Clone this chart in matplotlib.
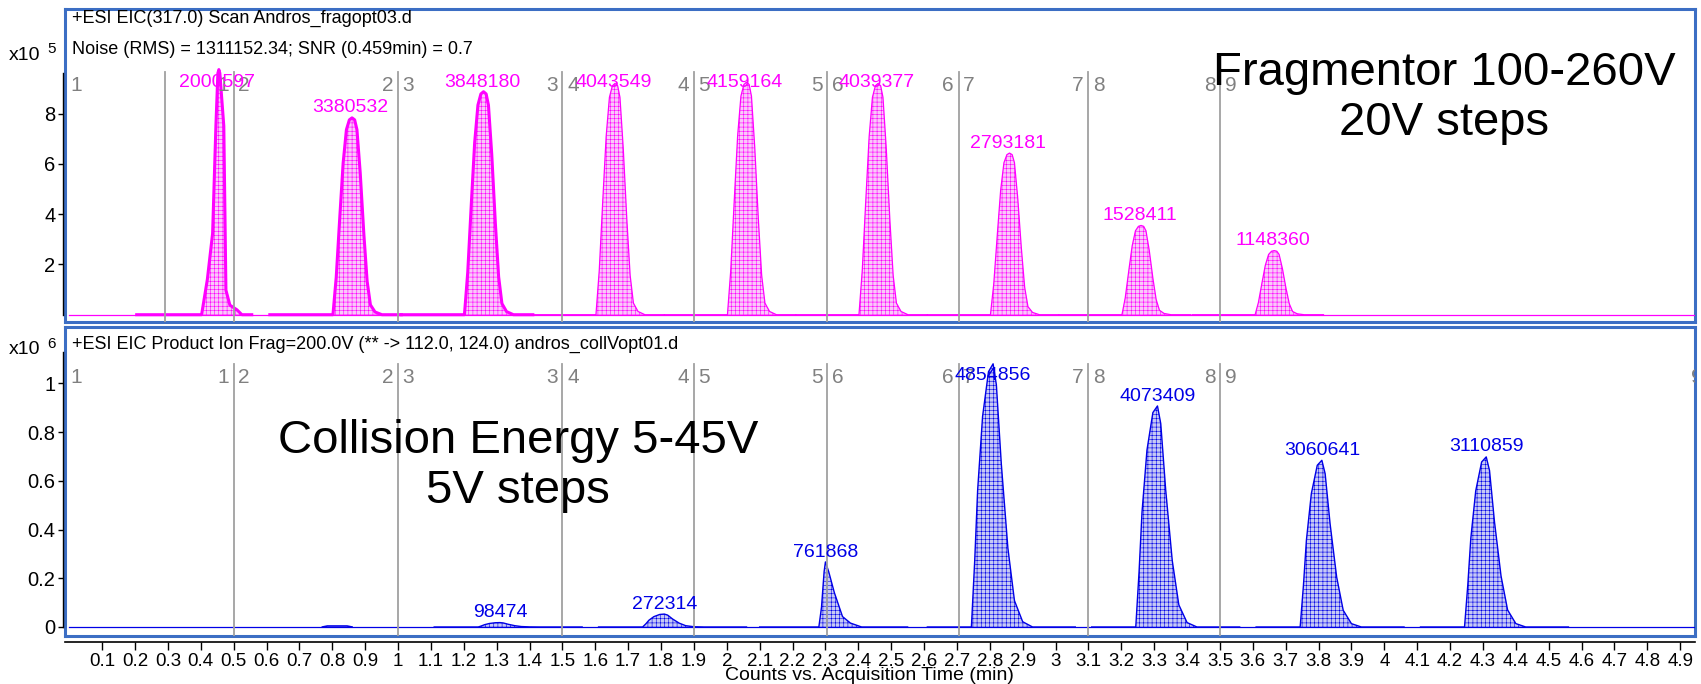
""" plot.py
Two stacked EIC traces (MassHunter style):
    top     fragmentor voltage ramp, 100-260V in 20V steps
    bottom  collision energy ramp, 5-45V in 5V steps
"""

import numpy as np
import matplotlib
matplotlib.use('Agg')
from matplotlib import pyplot as plt
from matplotlib import transforms

plt.rcParams['font.family'] = ['Liberation Sans', 'DejaVu Sans']
plt.rcParams['hatch.linewidth'] = 0.4
NARROW = ['Liberation Sans Narrow', 'Liberation Sans', 'DejaVu Sans']

W, H = 1701, 684

# ---------------- data ----------------
# top panel: EIC 317.0, counts x10^5
frag_rt = [0.455, 0.86, 1.26, 1.66, 2.06, 2.46, 2.86, 3.26, 3.665]
frag_height = [9.75, 7.83, 8.87, 9.2, 9.25, 9.2, 6.43, 3.55, 2.55]
frag_area = ['2000597', '3380532', '3848180', '4043549', '4159164',
             '4039377', '2793181', '1528411', '1148360']
frag_lw = [2.2, 2.2, 2.2, 0.9, 0.9, 0.9, 0.9, 0.9, 0.9]

# bottom panel: product ion EIC, counts x10^6
ce_rt = [1.31, 1.81, 2.30, 2.81, 3.31, 3.81, 4.31]
ce_height = [0.018, 0.053, 0.267, 1.08, 0.907, 0.684, 0.698]
ce_area = ['98474', '272314', '761868', '4854856', '4073409', '3060641', '3110859']

# peak outlines (offset from apex in min, fraction of apex height)
std_offs = [-0.25, -0.058, -0.048, -0.037, -0.027, -0.017, -0.008, 0.0, 0.008,
            0.015, 0.025, 0.036, 0.046, 0.056, 0.070, 0.091, 0.15]
std_rel = [0, 0, 0.19, 0.50, 0.77, 0.94, 0.99, 1.0, 0.99,
           0.94, 0.72, 0.41, 0.17, 0.05, 0.014, 0, 0]
spike_offs = [-0.25, -0.0525, -0.035, -0.019, -0.009, -0.003, 0.0, 0.003,
              0.015, 0.0215, 0.0336, 0.055, 0.07, 0.1]
spike_rel = [0, 0, 0.144, 0.332, 0.77, 0.985, 1.0, 0.985,
             0.77, 0.10, 0.039, 0.02, 0, 0]
ce_offs = [-0.20, -0.066, -0.056, -0.047, -0.032, -0.014, 0.0, 0.01,
           0.025, 0.045, 0.065, 0.09, 0.12, 0.25]
ce_rel = [0, 0, 0.25, 0.52, 0.8, 0.97, 1.0, 0.92,
          0.62, 0.3, 0.1, 0.02, 0, 0]
tail_offs = [-0.20, -0.02, -0.012, -0.004, 0.0, 0.01, 0.027, 0.052, 0.076, 0.11, 0.25]
tail_rel = [0, 0, 0.3, 0.85, 1.0, 0.85, 0.53, 0.16, 0.06, 0, 0]

# small bump near 0.8 min in the bottom trace (not integrated)
bump_t = [0.77, 0.785, 0.845, 0.86]
bump_y = [0, 0.004, 0.004, 0]

# segment boundaries
top_lines = [0.29, 0.5, 1.0, 1.5, 1.9, 2.305, 2.705, 3.1, 3.5]
seg_lines = [0.5, 1.0, 1.5, 1.9, 2.305, 2.705, 3.1, 3.5]
seg_left = ['1', '2', '3', '4', '5', '6', '7', '8']
seg_right = ['2', '3', '4', '5', '6', '7', '8', '9']

xticks = [round(0.1 * i, 1) for i in range(1, 50)]

# ---------------- style ----------------
MAGENTA = '#ff00ff'
PINK = '#f9c8f9'
BLUE = '#0000e6'
LBLUE = '#c6c9f5'
FRAME = '#3c6ec4'
GREY = '#a0a0a0'
GREYTXT = '#808080'
HATCH = '+' * 4

XMIN, XMAX = -0.013, 4.945


def px_box(x0, y0, x1, y1):
    # pixel box (from top-left) -> figure fraction rect
    return [x0 / W, 1 - y1 / H, (x1 - x0) / W, (y1 - y0) / H]


fig = plt.figure(figsize=(W / 100, H / 100), dpi=100)
ax_top = fig.add_axes(px_box(65, 9, 1695, 322))
ax_bot = fig.add_axes(px_box(65, 327, 1695, 636))
ax_x = fig.add_axes(px_box(65, 641, 1695, 641.5))

ax_top.set_ylim(-0.29, 12.16)
ax_bot.set_ylim(-0.037, 1.231)

for ax in (ax_top, ax_bot):
    ax.set_xlim(XMIN, XMAX)
    for s in ax.spines.values():
        s.set_color(FRAME)
        s.set_linewidth(2.2)
    ax.set_xticks([])
    ax.tick_params(axis='y', direction='out', length=5, width=1, color='k',
                   labelsize=14.5, pad=2)

ax_top.set_yticks([2, 4, 6, 8])
ax_top.set_yticklabels(['2', '4', '6', '8'])
ax_bot.set_yticks([0, 0.2, 0.4, 0.6, 0.8, 1])
ax_bot.set_yticklabels(['0', '0.2', '0.4', '0.6', '0.8', '1'])

# black y axis lines just left of the frame
for ax, y1 in ((ax_top, 9.6), (ax_bot, 1.13)):
    tr = transforms.blended_transform_factory(ax.transAxes, ax.transData)
    ax.plot([-0.0014, -0.0014], [0, y1], transform=tr, color='k', lw=1.0,
            clip_on=False, zorder=6)


def draw_peak(ax, t0, h, offs, rel, color, fill, lw):
    t = t0 + np.array(offs)
    y = h * np.array(rel)
    ax.fill_between(t, 0, y, facecolor=fill, edgecolor=color, hatch=HATCH,
                    linewidth=0, zorder=2)
    ax.plot(t, y, color=color, lw=lw, zorder=3, solid_joinstyle='round')


# baselines
ax_top.plot([0, XMAX], [0, 0], color=MAGENTA, lw=0.9, zorder=3)
ax_bot.plot([0, XMAX], [0, 0], color=BLUE, lw=0.9, zorder=3)

# top peaks
for i in range(len(frag_rt)):
    if i == 0:
        offs, rel = spike_offs, spike_rel
    else:
        offs, rel = std_offs, std_rel
    draw_peak(ax_top, frag_rt[i], frag_height[i], offs, rel, MAGENTA, PINK, frag_lw[i])
    ax_top.annotate(frag_area[i], xy=(frag_rt[i] - 0.005, min(frag_height[i], 8.85)),
                    xytext=(0, 1), textcoords='offset points', ha='center', va='bottom',
                    color=MAGENTA, fontsize=14, zorder=5)

# bottom peaks
ax_bot.plot(bump_t, bump_y, color=BLUE, lw=1.2, zorder=3)
for i in range(len(ce_rt)):
    if ce_rt[i] == 2.30:
        offs, rel = tail_offs, tail_rel
    else:
        offs, rel = ce_offs, ce_rel
    draw_peak(ax_bot, ce_rt[i], ce_height[i], offs, rel, BLUE, LBLUE, 1.0)
    ax_bot.annotate(ce_area[i], xy=(ce_rt[i], min(ce_height[i], 0.99)),
                    xytext=(0, 1), textcoords='offset points', ha='center', va='bottom',
                    color=BLUE, fontsize=14, zorder=5)

# segment lines + numbers
for ax, lines, ytop, ylab in ((ax_top, top_lines, 9.65, 9.1), (ax_bot, seg_lines, 1.08, 1.025)):
    for t in lines:
        ax.plot([t, t], [ax.get_ylim()[0], ytop], color=GREY, lw=1.3, zorder=4)
    for t, a, b in zip(seg_lines, seg_left, seg_right):
        ax.text(t - 0.014, ylab, a, ha='right', va='center', color=GREYTXT, fontsize=15, zorder=4)
        ax.text(t + 0.014, ylab, b, ha='left', va='center', color=GREYTXT, fontsize=15, zorder=4)
    ax.text(0.004, ylab, '1', ha='left', va='center', color=GREYTXT, fontsize=15, zorder=4)
ax_bot.text(4.95, 1.025, '9', ha='center', va='center', color=GREYTXT, fontsize=15,
            clip_on=True)

# x axis (separate line under the lower frame)
ax_x.set_xlim(XMIN, XMAX)
for s in ('top', 'left', 'right'):
    ax_x.spines[s].set_visible(False)
ax_x.spines['bottom'].set_linewidth(1.2)
ax_x.patch.set_visible(False)
ax_x.set_yticks([])
ax_x.set_xticks(xticks)
ax_x.set_xticklabels(['%g' % v for v in xticks], family=NARROW, fontsize=13.5)
ax_x.tick_params(axis='x', direction='out', length=6, width=1, pad=2)
fig.text(869 / W, 1 - 675 / H, 'Counts vs. Acquisition Time (min)', family=NARROW,
         fontsize=14, ha='center', va='center')

# header texts
fig.text(72 / W, 1 - 18.5 / H, '+ESI EIC(317.0) Scan Andros_fragopt03.d',
         fontsize=13, va='center')
fig.text(72 / W, 1 - 49.5 / H, 'Noise (RMS) = 1311152.34; SNR (0.459min) = 0.7',
         fontsize=13, va='center')
fig.text(72 / W, 1 - 344 / H, '+ESI EIC Product Ion Frag=200.0V (** -> 112.0, 124.0) andros_collVopt01.d',
         fontsize=13, va='center')

for yc, expo in ((55, '5'), (350, '6')):
    fig.text(9 / W, 1 - yc / H, 'x10', fontsize=14, va='center')
    fig.text(47 / W, 1 - (yc - 6) / H, expo, fontsize=11, va='center')

# annotations
fig.text(1444 / W, 1 - 98 / H, 'Fragmentor 100-260V\n20V steps', fontsize=34,
         ha='center', va='center', linespacing=1.17)
fig.text(518 / W, 1 - 466 / H, 'Collision Energy 5-45V\n5V steps', fontsize=34,
         ha='center', va='center', linespacing=1.17)

fig.savefig('out.png', dpi=100)
